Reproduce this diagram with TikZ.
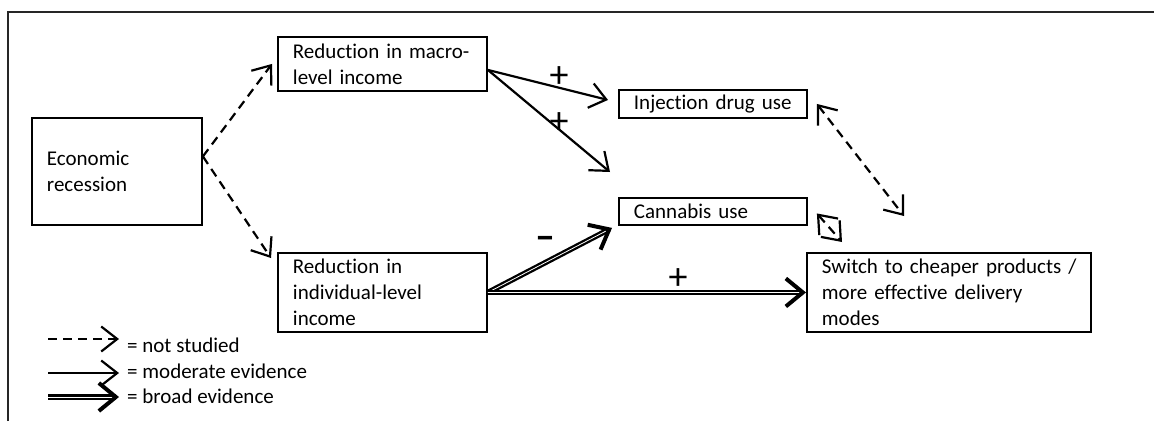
\documentclass[tikz,border=0pt]{standalone}
\usepackage{fontspec}
\setmainfont{Carlito}[Ligatures=NoCommon]
\usetikzlibrary{arrows.meta,calc}
\begin{document}
\begin{tikzpicture}[x=1pt,y=-1pt,
  box/.style={draw, line width=1.9pt, inner xsep=15pt, inner ysep=0pt,
    align=left, anchor=north west, font=\fontsize{21}{26}\selectfont},
  moderate/.style={line width=2.2pt, -{Straight Barb[length=16pt,width=25pt]}},
  notstudied/.style={moderate, dash pattern=on 9pt off 6pt},
  bothways/.style={line width=2.2pt, dash pattern=on 9pt off 6pt,
    {Straight Barb[length=16pt,width=25pt]}-{Straight Barb[length=16pt,width=25pt]}},
  broadline/.style={line width=2.3pt, double, double distance=0.8pt, shorten >=3pt},
  broadtip/.style={line width=4pt, -{Straight Barb[length=17pt,width=28pt]}},
  sign/.style={font=\fontsize{38}{40}\selectfont, inner sep=0pt},
  minus/.style={font=\fontsize{40}{40}\selectfont\bfseries, inner sep=0pt},
  legend/.style={font=\fontsize{21}{26}\selectfont, inner sep=0pt, anchor=base west},
  frame/.style={line width=2.2pt, draw=black!85}
]
\useasboundingbox (0,0) rectangle (1154,421);

% open frame along the top and left edges
\draw[frame] (8,421) -- (8,12) -- (1154,12);

% boxes
\node[box, text width=140pt, minimum height=107pt] (econ) at (31,117) {Economic\\recession};
\node[box, text width=179pt, minimum height=54pt] (macro) at (277,36) {\mbox{Reduction in macro-}\\level income};
\node[box, text width=179pt, minimum height=79pt] (indiv) at (277,252) {Reduction in\\individual-level\\income};
\node[box, text width=158pt, minimum height=28pt] (idu) at (618,89) {Injection drug use};
\node[box, text width=158pt, minimum height=27pt] (canna) at (618,197) {Cannabis use};
\node[box, text width=254pt, minimum height=79pt] (switch) at (806,252) {\mbox{Switch to cheaper products /}\\\mbox{more effective delivery}\\modes};

% recession to the two income reductions (not studied)
\draw[notstudied] ([yshift=15pt]econ.east) -- ([xshift=-5pt]macro.west);
\draw[notstudied] ([yshift=15pt]econ.east) -- ([xshift=-6pt,yshift=-6pt]indiv.north west);

% macro-level income (moderate evidence)
\draw[moderate] ([yshift=-6pt]macro.east) -- ([xshift=-10pt,yshift=4pt]idu.west);
\draw[moderate] ([yshift=-6pt]macro.east) -- ([xshift=-8pt,yshift=25pt]canna.north west);
\node[sign] (p1) at (559,77) {+};
\node[sign] (p2) at (559,123) {+};

% individual-level income (broad evidence)
\coordinate (ctip) at ([xshift=-6pt,yshift=-2pt]canna.south west);
\draw[broadline] (indiv.east) -- (ctip);
\draw[broadtip] ($(ctip)!6pt!(indiv.east)$) -- (ctip);
\draw[broadline] (indiv.east) -- (switch.west);
\draw[broadtip] ($(switch.west)!6pt!(indiv.east)$) -- (switch.west);
\node[minus] (m1) at (545,243) {–};
\node[sign] (p3) at (678,279) {+};

% two-way links with the switch box (not studied)
\draw[bothways] ([xshift=9pt]idu.east) -- ([xshift=98pt,yshift=36pt]switch.north west);
\draw[bothways] ([xshift=9pt,yshift=-2pt]canna.east) -- ([xshift=36pt,yshift=10pt]switch.north west);

% legend
\coordinate (l1a) at (48,339); \coordinate (l1b) at (119,339);
\coordinate (l2a) at (48,373); \coordinate (l2b) at (119,373);
\coordinate (l3a) at (48,397); \coordinate (l3b) at (119,397);
\draw[notstudied] (l1a) -- (l1b);
\draw[moderate] (l2a) -- (l2b);
\draw[broadline] (l3a) -- (l3b);
\draw[broadtip] ($(l3b)!6pt!(l3a)$) -- (l3b);
\node[legend] (t1) at (127,352) {= not studied};
\node[legend] (t2) at (127,378) {= moderate evidence};
\node[legend] (t3) at (127,403) {= broad evidence};
\end{tikzpicture}
\end{document}
